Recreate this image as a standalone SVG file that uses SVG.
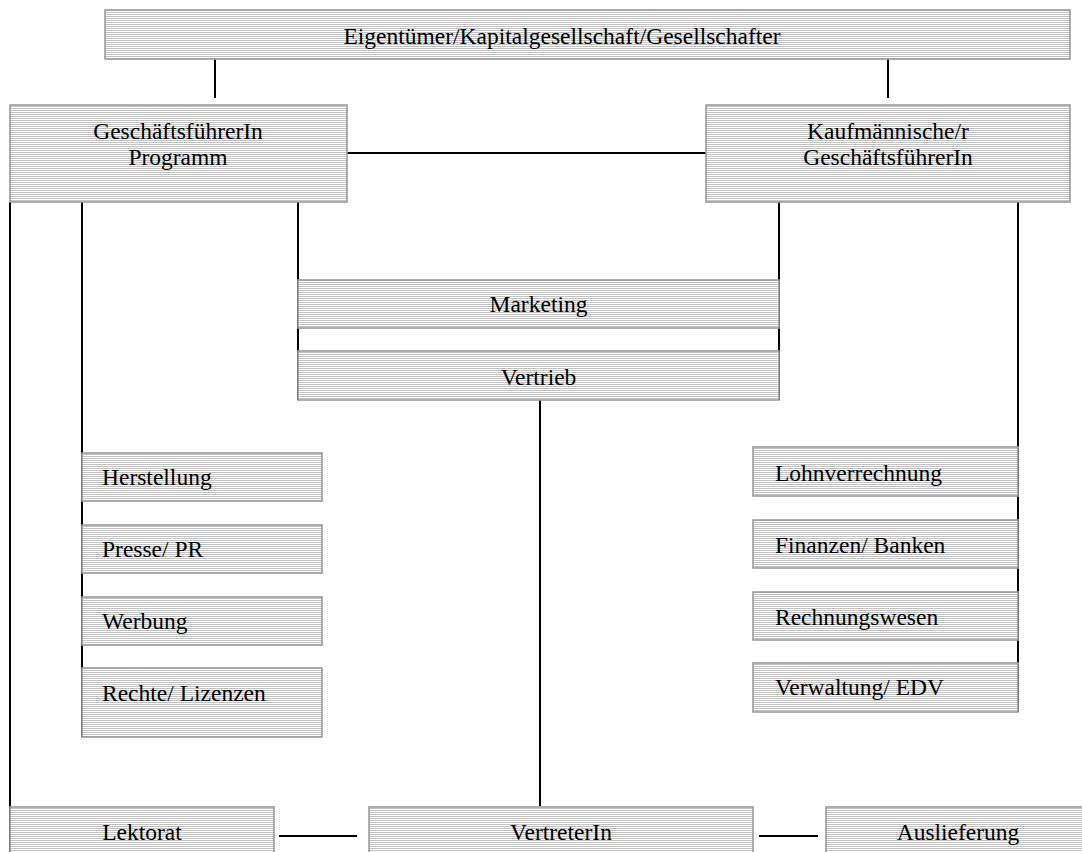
<svg xmlns="http://www.w3.org/2000/svg" width="1082" height="852" viewBox="0 0 1082 852">
<defs>
<pattern id="stripes" x="0" y="0" width="4" height="2" patternUnits="userSpaceOnUse">
<rect x="0" y="0" width="4" height="2" fill="#ffffff"/>
<rect x="0" y="0" width="4" height="1" fill="#c2c2c2"/>
</pattern>
</defs>
<style>
.box{fill:url(#stripes);stroke:#9a9a9a;stroke-width:1.6}
.t{font-family:"Liberation Serif","Times New Roman",serif;font-size:23.5px;fill:#000}
.c{text-anchor:middle}
.ln{stroke:#000;stroke-width:2;fill:none}
</style>
<g id="connectors">
<line class="ln" x1="215" y1="59" x2="215" y2="98"/>
<line class="ln" x1="888" y1="59" x2="888" y2="98"/>
<line class="ln" x1="347" y1="153" x2="706" y2="153"/>
<line class="ln" x1="10" y1="202" x2="10" y2="852"/>
<line class="ln" x1="82" y1="202" x2="82" y2="737"/>
<line class="ln" x1="298" y1="202" x2="298" y2="400"/>
<line class="ln" x1="779" y1="202" x2="779" y2="400"/>
<line class="ln" x1="1018" y1="202" x2="1018" y2="712"/>
<line class="ln" x1="540" y1="400" x2="540" y2="806"/>
<line class="ln" x1="279" y1="836" x2="357" y2="836"/>
<line class="ln" x1="759" y1="836" x2="818" y2="836"/>
</g>
<g id="eigentuemer">
<rect class="box" x="105" y="10" width="965" height="49"/>
<text class="t c" x="562" y="44">Eigentümer/Kapitalgesellschaft/Gesellschafter</text>
</g>
<g id="gf-programm">
<rect class="box" x="10" y="105" width="337" height="97"/>
<text class="t c" x="178" y="139">GeschäftsführerIn</text>
<text class="t c" x="178" y="165">Programm</text>
</g>
<g id="gf-kaufm">
<rect class="box" x="706" y="105" width="364" height="97"/>
<text class="t c" x="888" y="139">Kaufmännische/r</text>
<text class="t c" x="888" y="165">GeschäftsführerIn</text>
</g>
<g id="marketing">
<rect class="box" x="298" y="280" width="481" height="48"/>
<text class="t c" x="538.5" y="312">Marketing</text>
</g>
<g id="vertrieb">
<rect class="box" x="298" y="351" width="481" height="49"/>
<text class="t c" x="538.5" y="385">Vertrieb</text>
</g>
<g id="herstellung">
<rect class="box" x="82" y="453" width="240" height="48"/>
<text class="t" x="102" y="485">Herstellung</text>
</g>
<g id="presse">
<rect class="box" x="82" y="525" width="240" height="48"/>
<text class="t" x="102" y="557">Presse/ PR</text>
</g>
<g id="werbung">
<rect class="box" x="82" y="597" width="240" height="48"/>
<text class="t" x="102" y="629">Werbung</text>
</g>
<g id="rechte">
<rect class="box" x="82" y="668" width="240" height="69"/>
<text class="t" x="102" y="701">Rechte/ Lizenzen</text>
</g>
<g id="lohn">
<rect class="box" x="753" y="447" width="265" height="49"/>
<text class="t" x="775" y="481">Lohnverrechnung</text>
</g>
<g id="finanzen">
<rect class="box" x="753" y="520" width="265" height="48"/>
<text class="t" x="775" y="553">Finanzen/ Banken</text>
</g>
<g id="rechnungswesen">
<rect class="box" x="753" y="592" width="265" height="48"/>
<text class="t" x="775" y="625">Rechnungswesen</text>
</g>
<g id="verwaltung">
<rect class="box" x="753" y="663" width="265" height="49"/>
<text class="t" x="775" y="695">Verwaltung/ EDV</text>
</g>
<g id="lektorat">
<rect class="box" x="10" y="807" width="264" height="50"/>
<text class="t c" x="142" y="840">Lektorat</text>
</g>
<g id="vertreterin">
<rect class="box" x="369" y="807" width="384" height="50"/>
<text class="t c" x="561" y="840">VertreterIn</text>
</g>
<g id="auslieferung">
<rect class="box" x="826" y="807" width="264" height="50"/>
<text class="t c" x="958" y="840">Auslieferung</text>
</g>
</svg>
